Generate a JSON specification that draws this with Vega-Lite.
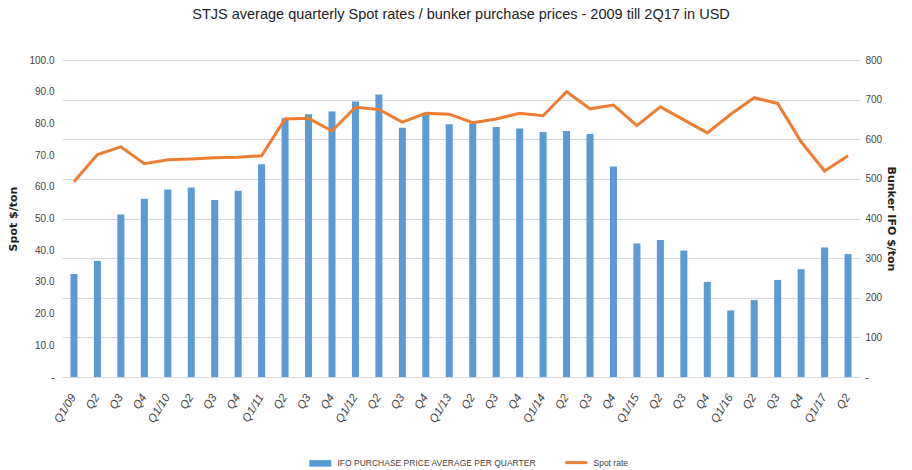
{
  "$schema": "https://vega.github.io/schema/vega-lite/v6.json",
  "width": 798,
  "height": 317,
  "autosize": {"type": "none"},
  "padding": {"left": 62, "top": 60, "right": 52, "bottom": 93},
  "background": "white",
  "title": {
    "text": "STJS average quarterly Spot rates / bunker purchase prices - 2009 till 2Q17 in USD",
    "fontSize": 14.5,
    "font": "Liberation Sans",
    "fontWeight": "normal",
    "color": "#222222",
    "offset": 33
  },
  "config": {
    "view": {"stroke": null},
    "axis": {"labelFont": "Liberation Sans", "titleFont": "DejaVu Sans", "labelColor": "#444444"}
  },
  "data": {
    "values": [
      {"q": "Q1/09", "ifo": 260, "spot": 61.6},
      {"q": "Q2_09", "ifo": 293, "spot": 70.2},
      {"q": "Q3_09", "ifo": 410, "spot": 72.6},
      {"q": "Q4_09", "ifo": 450, "spot": 67.3},
      {"q": "Q1/10", "ifo": 473, "spot": 68.5},
      {"q": "Q2_10", "ifo": 478, "spot": 68.8},
      {"q": "Q3_10", "ifo": 447, "spot": 69.2},
      {"q": "Q4_10", "ifo": 470, "spot": 69.3},
      {"q": "Q1/11", "ifo": 537, "spot": 69.8},
      {"q": "Q2_11", "ifo": 653, "spot": 81.4},
      {"q": "Q3_11", "ifo": 663, "spot": 81.6},
      {"q": "Q4_11", "ifo": 670, "spot": 77.6},
      {"q": "Q1/12", "ifo": 695, "spot": 85.1},
      {"q": "Q2_12", "ifo": 713, "spot": 84.4},
      {"q": "Q3_12", "ifo": 629, "spot": 80.4},
      {"q": "Q4_12", "ifo": 661, "spot": 83.2},
      {"q": "Q1/13", "ifo": 638, "spot": 82.9},
      {"q": "Q2_13", "ifo": 640, "spot": 80.2},
      {"q": "Q3_13", "ifo": 631, "spot": 81.4},
      {"q": "Q4_13", "ifo": 627, "spot": 83.2},
      {"q": "Q1/14", "ifo": 618, "spot": 82.4},
      {"q": "Q2_14", "ifo": 621, "spot": 90.0},
      {"q": "Q3_14", "ifo": 613, "spot": 84.6},
      {"q": "Q4_14", "ifo": 531, "spot": 85.8},
      {"q": "Q1/15", "ifo": 337, "spot": 79.3},
      {"q": "Q2_15", "ifo": 346, "spot": 85.2},
      {"q": "Q3_15", "ifo": 319, "spot": 81.1},
      {"q": "Q4_15", "ifo": 240, "spot": 77.0},
      {"q": "Q1/16", "ifo": 168, "spot": 82.9},
      {"q": "Q2_16", "ifo": 194, "spot": 88.1},
      {"q": "Q3_16", "ifo": 245, "spot": 86.3},
      {"q": "Q4_16", "ifo": 272, "spot": 74.2},
      {"q": "Q1/17", "ifo": 327, "spot": 65.0},
      {"q": "Q2_17", "ifo": 310, "spot": 69.8}
    ]
  },
  "encoding": {
    "x": {
      "field": "q",
      "type": "ordinal",
      "sort": null,
      "scale": {"paddingInner": 0.7, "paddingOuter": 0.36},
      "axis": {
        "title": null,
        "labelExpr": "split(datum.value, '_')[0]",
        "labelAngle": -58,
        "labelFontSize": 11.5,
        "labelFontStyle": "italic",
        "labelPadding": 18,
        "ticks": false,
        "domainColor": "#D9D9D9",
        "grid": false
      }
    }
  },
  "layer": [
    {
      "mark": {"type": "bar", "color": "#5B9BD5"},
      "encoding": {
        "y": {
          "field": "ifo",
          "type": "quantitative",
          "scale": {"domain": [0, 800]},
          "axis": {
            "orient": "right",
            "title": "Bunker IFO $/ton",
            "titleFontSize": 11,
            "titleFontWeight": "bold",
            "titleColor": "#222222",
            "titlePadding": 4,
            "values": [0, 100, 200, 300, 400, 500, 600, 700, 800],
            "labelExpr": "datum.value == 0 ? '-' : datum.value",
            "labelFontSize": 10,
            "labelPadding": 5,
            "ticks": false,
            "domain": false,
            "grid": true,
            "gridColor": "#D9D9D9"
          }
        },
        "color": {
          "datum": "IFO PURCHASE PRICE AVERAGE PER QUARTER",
          "type": "nominal",
          "scale": {
            "domain": ["IFO PURCHASE PRICE AVERAGE PER QUARTER", "Spot rate"],
            "range": ["#5B9BD5", "#ED7D31"]
          },
          "legend": {
            "title": null,
            "orient": "none",
            "direction": "horizontal",
            "legendX": 254,
            "legendY": 398,
            "labelFont": "Liberation Sans",
            "labelFontSize": 8.5,
            "labelLimit": 400,
            "labelOffset": 13,
            "labelColor": "#444444",
            "columnPadding": 22,
            "symbolSize": 484,
            "encode": {
              "symbols": {
                "update": {
                  "shape": {"signal": "datum.value == 'Spot rate' ? 'stroke' : 'M-1,-0.3L1,-0.3L1,0.3L-1,0.3Z'"},
                  "strokeWidth": {"signal": "datum.value == 'Spot rate' ? 3 : 0"},
                  "stroke": {"signal": "datum.value == 'Spot rate' ? '#ED7D31' : '#5B9BD5'"},
                  "fill": {"signal": "datum.value == 'Spot rate' ? 'transparent' : '#5B9BD5'"}
                }
              }
            }
          }
        }
      }
    },
    {
      "mark": {"type": "line", "strokeWidth": 3, "color": "#ED7D31"},
      "encoding": {
        "y": {
          "field": "spot",
          "type": "quantitative",
          "scale": {"domain": [0, 100]},
          "axis": {
            "orient": "left",
            "title": "Spot $/ton",
            "titleFontSize": 11,
            "titleFontWeight": "bold",
            "titleColor": "#222222",
            "titlePadding": 10,
            "values": [0, 10, 20, 30, 40, 50, 60, 70, 80, 90, 100],
            "labelExpr": "datum.value == 0 ? '-' : format(datum.value, '.1f')",
            "labelFontSize": 10,
            "labelPadding": 8,
            "ticks": false,
            "domain": false,
            "grid": false
          }
        },
        "color": {"datum": "Spot rate", "type": "nominal"}
      }
    }
  ],
  "resolve": {"scale": {"y": "independent"}}
}
